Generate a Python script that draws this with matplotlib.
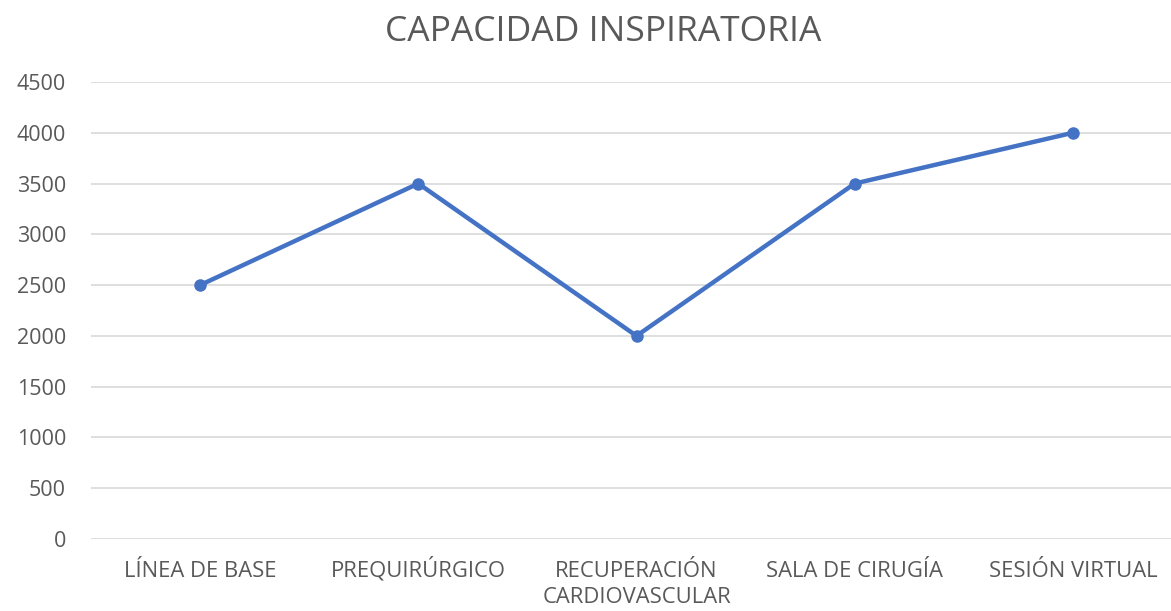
import matplotlib.pyplot as plt
from matplotlib.transforms import ScaledTranslation

categorias = ["LÍNEA DE BASE", "PREQUIRÚRGICO", "RECUPERACIÓN\nCARDIOVASCULAR",
              "SALA DE CIRUGÍA", "SESIÓN VIRTUAL"]
valores = [2500, 3500, 2000, 3500, 4000]
yticks = [0, 500, 1000, 1500, 2000, 2500, 3000, 3500, 4000, 4500]

plt.rcParams['font.family'] = ['Open Sans', 'DejaVu Sans']
gris = '#595959'

fig = plt.figure(figsize=(11.71, 6.11), dpi=100)
ax = fig.add_axes([91 / 1171, 72 / 611, 1091 / 1171, 457 / 611])

x = list(range(len(categorias)))
ax.plot(x, valores, color='#4472C4', linewidth=3.2, marker='o', markersize=8,
        solid_capstyle='round', zorder=3)

ax.set_xlim(-0.5, len(categorias) - 0.5)
ax.set_ylim(0, 4500)
ax.set_yticks(yticks)
ax.set_xticks(x)
ax.set_xticklabels([])
ax.grid(axis='y', color='#D9D9D9', linewidth=1.2)
ax.set_axisbelow(True)
for s in ax.spines.values():
    s.set_visible(False)
ax.tick_params(length=0, labelsize=15.5, colors=gris)
ax.tick_params(axis='y', pad=18)

# category labels: each line on its own baseline (38 px below axis, 26 px apart)
for xi, cat in zip(x, categorias):
    for k, linea in enumerate(cat.split('\n')):
        off = ScaledTranslation(0, -(38 + 26 * k) / 100, fig.dpi_scale_trans)
        ax.text(xi, 0, linea, transform=ax.get_xaxis_transform() + off,
                ha='center', va='baseline', fontsize=15.8, color=gris)

fig.text(603 / 1171, 1 - 41 / 611, "CAPACIDAD INSPIRATORIA", ha='center', va='baseline',
         fontsize=25.5, color=gris)

fig.savefig('out.png', dpi=100)
